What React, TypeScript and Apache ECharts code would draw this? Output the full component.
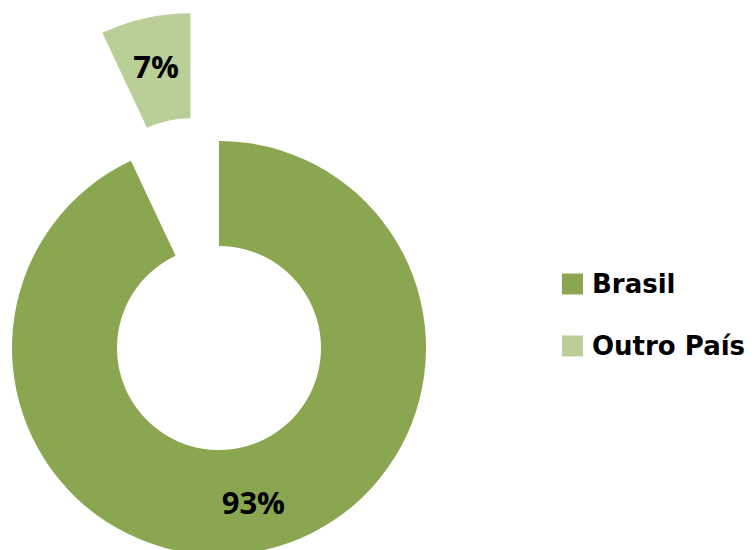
import React, { useEffect, useRef } from "react";
import * as echarts from "echarts";

const categories = ["Brasil", "Outro País"];
const values = [93, 7];
const colors = ["#8BA651", "#BACF98"];
const explodedFlags = [false, true];

export default function App() {
  const ref = useRef<HTMLDivElement>(null);
  useEffect(() => {
    document.body.style.margin = "0";
    const chart = echarts.init(ref.current!, undefined, { renderer: "svg" });
    chart.setOption({
      animation: false,
      legend: {
        orient: "vertical",
        left: 557,
        top: 266,
        itemWidth: 21,
        itemHeight: 21,
        itemGap: 36,
        icon: "rect",
        selectedMode: false,
        data: categories,
        textStyle: {
          fontFamily: "DejaVu Sans",
          fontWeight: "bold",
          fontSize: 26,
          lineHeight: 21,
          color: "#000",
          padding: [0, 0, 0, 4],
        },
      },
      series: [
        {
          type: "pie",
          center: [219, 348],
          radius: [102, 207],
          startAngle: 90,
          clockwise: true,
          selectedMode: "multiple",
          selectedOffset: 131,
          emphasis: { disabled: true },
          labelLine: { show: false },
          label: {
            show: true,
            position: "inside",
            formatter: "{c}%",
            fontFamily: "Open Sans",
            fontWeight: "bold",
            fontSize: 31,
            color: "#000",
          },
          data: categories.map((name, i) => ({
            name,
            value: values[i],
            selected: explodedFlags[i],
            itemStyle: { color: colors[i] },
          })),
        },
      ],
    });
    return () => chart.dispose();
  }, []);
  return <div ref={ref} style={{ width: 756, height: 550 }} />;
}
